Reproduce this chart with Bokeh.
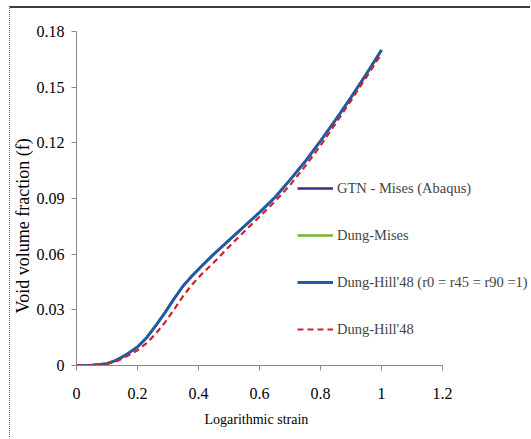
from bokeh.plotting import figure
from bokeh.models import Range1d, FixedTicker, Legend, LegendItem, Title
from bokeh.embed import file_html
from bokeh.resources import INLINE

# ---- data ----
strain = [0.0, 0.05, 0.10, 0.13, 0.16, 0.20, 0.23, 0.26, 0.29, 0.32, 0.35, 0.38,
          0.41, 0.45, 0.50, 0.55, 0.60, 0.65, 0.70, 0.75, 0.80, 0.85, 0.90, 0.95, 1.00]
f_gtn_mises = [0.0, 0.0002, 0.0010, 0.0028, 0.0055, 0.0100, 0.0150, 0.0215, 0.0285, 0.0360,
               0.0430, 0.0485, 0.0535, 0.0600, 0.0675, 0.0750, 0.0825, 0.0905, 0.1000,
               0.1100, 0.1210, 0.1325, 0.1445, 0.1570, 0.1700]
f_dung_mises = list(f_gtn_mises)
f_dung_hill_iso = list(f_gtn_mises)
f_dung_hill = [0.0, 0.0001, 0.0008, 0.0022, 0.0045, 0.0082, 0.0120, 0.0172, 0.0232, 0.0302,
               0.0375, 0.0438, 0.0492, 0.0555, 0.0640, 0.0722, 0.0802, 0.0883, 0.0972,
               0.1075, 0.1185, 0.1305, 0.1428, 0.1553, 0.1680]

series_names = ["GTN - Mises (Abaqus)", "Dung-Mises",
                "Dung-Hill'48 (r0 = r45 = r90 =1)", "Dung-Hill'48"]

x_ticks = [0, 0.2, 0.4, 0.6, 0.8, 1.0, 1.2]
x_tick_labels = ["0", "0.2", "0.4", "0.6", "0.8", "1", "1.2"]
y_ticks = [0, 0.03, 0.06, 0.09, 0.12, 0.15, 0.18]
y_tick_labels = ["0", "0.03", "0.06", "0.09", "0.12", "0.15", "0.18"]

FONT = "Liberation Serif"

W, H = 521, 431
LEFT, TOP, BOTTOM = 66, 23, 74
AXIS_W = 366                       # pixel length of the 0..1.2 axis
frame_w = W - LEFT
x_end = x_ticks[-1] * frame_w / AXIS_W   # frame extends past 1.2 so the legend fits

p = figure(width=W, height=H, output_backend="svg", toolbar_location=None,
           x_range=Range1d(0, x_end), y_range=Range1d(0, 0.18),
           min_border_left=LEFT, min_border_right=0, min_border_top=TOP,
           min_border_bottom=BOTTOM)
p.styles = {"margin-left": "9px", "margin-top": "6px",
            "border-top": "2px solid #3c3c3c", "border-left": "1px dotted #666666"}

p.xgrid.visible = False
p.ygrid.visible = False
p.outline_line_color = None
p.background_fill_color = "white"
p.border_fill_color = "white"

for ax in (p.xaxis[0], p.yaxis[0]):
    ax.axis_line_color = "#8a8a8a"
    ax.major_tick_line_color = "#8a8a8a"
    ax.minor_tick_line_color = None
    ax.major_tick_in = 0
    ax.major_tick_out = 5
    ax.major_label_text_font = FONT
    ax.major_label_text_font_size = "16px"
    ax.major_label_text_color = "black"

p.xaxis.bounds = (0, 1.2)
p.xaxis.ticker = FixedTicker(ticks=x_ticks)
p.xaxis.major_label_overrides = {t: l for t, l in zip(x_ticks, x_tick_labels)}
p.yaxis.ticker = FixedTicker(ticks=y_ticks)
p.yaxis.major_label_overrides = {t: l for t, l in zip(y_ticks, y_tick_labels)}
p.xaxis.major_label_standoff = 17
p.yaxis.major_label_standoff = 7

# axis titles as panel titles so they can sit where the reference has them
xlabel = Title(text="Logarithmic strain", align="left", vertical_align="top",
               offset=128, standoff=21,
               text_font=FONT, text_font_size="14px", text_font_style="normal",
               text_color="black")
p.add_layout(xlabel, "below")
ylabel = Title(text="Void volume fraction (f)", align="left", offset=52, standoff=1,
               text_font=FONT, text_font_size="18px", text_font_style="normal",
               text_color="black")
p.add_layout(ylabel, "left")

r1 = p.line(strain, f_gtn_mises, line_color="#42298c", line_width=2.5)
r2 = p.line(strain, f_dung_mises, line_color="#77b52e", line_width=2.5)
r3 = p.line(strain, f_dung_hill_iso, line_color="#1f5baa", line_width=2.8)
r4 = p.line(strain, f_dung_hill, line_color="#c8252b", line_width=2.2, line_dash="6 4")

legend = Legend(items=[LegendItem(label=series_names[0], renderers=[r1]),
                       LegendItem(label=series_names[1], renderers=[r2]),
                       LegendItem(label=series_names[2], renderers=[r3]),
                       LegendItem(label=series_names[3], renderers=[r4])],
                location=(221, 26), padding=0, margin=0, spacing=27,
                glyph_width=36, glyph_height=20, label_height=20, label_standoff=4,
                label_text_font=FONT, label_text_font_size="14.5px",
                border_line_color=None, background_fill_alpha=0)
p.add_layout(legend, "center")

open("out.html", "w").write(file_html(p, INLINE))
